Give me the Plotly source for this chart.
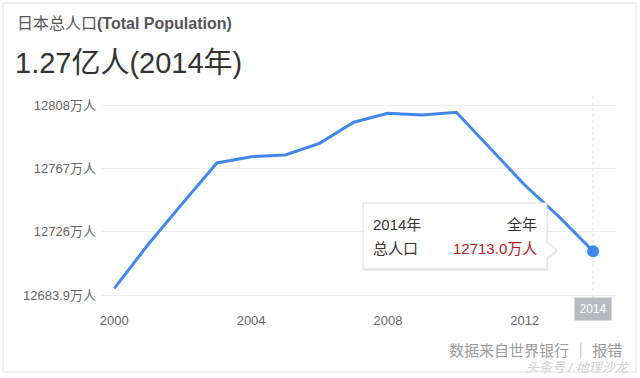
import plotly.graph_objects as go

years = list(range(2000, 2015))
population = [12688.7, 12717.7, 12744.4, 12770.6, 12774.7, 12775.8, 12783.4, 12797.2,
              12803.0, 12801.9, 12803.7, 12780.0, 12756.2, 12735.6, 12713.0]
x_ticks = [2000, 2004, 2008, 2012]
y_ticks = [12683.9, 12726, 12767, 12808]
y_ticktext = ["12683.9万人", "12726万人", "12767万人", "12808万人"]
highlight_year = 2014
highlight_value = population[-1]

W, H = 640, 378
L, R, T, B = 102, 24, 93, 81
PW, PH = W - L - R, H - T - B

def px(x):
    return (x - L) / PW

def py(y):
    return (H - B - y) / PH

FONT = "Liberation Sans, Arial, Noto Sans CJK SC, sans-serif"

fig = go.Figure()
fig.add_trace(go.Scatter(x=years, y=population, mode="lines",
                         line=dict(color="#4287ec", width=3), hoverinfo="skip"))
fig.add_trace(go.Scatter(x=[highlight_year], y=[highlight_value], mode="markers",
                         marker=dict(color="#4287ec", size=12), hoverinfo="skip"))

shapes = []
# card border
shapes.append(dict(type="rect", xref="paper", yref="paper", x0=px(3), x1=px(636), y0=py(372), y1=py(3),
                   line=dict(color="#e2e2e2", width=1), fillcolor="rgba(0,0,0,0)", layer="below"))
# vertical line at highlight year
shapes.append(dict(type="line", xref="x", yref="paper", x0=highlight_year, x1=highlight_year, y0=0, y1=1,
                   line=dict(color="#dcdcdc", width=1, dash="dot"), layer="below"))

# tooltip
tl, tr, tt, tb = 363, 547, 203, 269
tip_x, tip_y = 557, 250

def tooltip_path(dx=0, dy=0):
    pts = [(tl, tt), (tr, tt), (tr, tip_y - 8), (tip_x, tip_y), (tr, tip_y + 8), (tr, tb), (tl, tb)]
    s = ""
    for i, (a, b) in enumerate(pts):
        s += ("M" if i == 0 else "L") + f"{px(a + dx):.5f},{py(b + dy):.5f} "
    return s + "Z"

shapes.append(dict(type="path", xref="paper", yref="paper", path=tooltip_path(1, 2),
                   fillcolor="rgba(0,0,0,0.06)", line=dict(width=0)))
shapes.append(dict(type="path", xref="paper", yref="paper", path=tooltip_path(),
                   fillcolor="white", line=dict(color="#dedede", width=1)))

ann = []
def text(x, y, s, size, color, xanchor="left", **kw):
    ann.append(dict(xref="paper", yref="paper", x=px(x), y=py(y), text=s, showarrow=False,
                    xanchor=xanchor, yanchor="middle", font=dict(family=FONT, size=size, color=color), **kw))

text(15, 23, "日本总人口<b>(Total Population)</b>", 16, "#555555")
text(13, 63, "1.27亿人(2014年)", 29, "#333333")
text(371, 224, "2014年", 15, "#333333")
text(539, 224, "全年", 15, "#333333", xanchor="right")
text(371, 248, "总人口", 15, "#333333")
text(539, 248, "12713.0万人", 15, "#b3202a", xanchor="right")
text(624, 350, "数据来自世界银行 ｜ 报错", 15, "#9a9a9a", xanchor="right")
text(632, 367, "<i>头条号 / 地理沙龙</i>", 13, "#d0d0d0", xanchor="right")

ann.append(dict(xref="x", yref="paper", x=highlight_year, y=py(309), text=str(highlight_year),
                showarrow=False, xanchor="center", yanchor="middle", bgcolor="#b7bac0",
                width=34, height=20, font=dict(family=FONT, size=12, color="white")))

fig.update_layout(
    width=W, height=H, margin=dict(l=L, r=R, t=T, b=B),
    paper_bgcolor="white", plot_bgcolor="white", showlegend=False,
    shapes=shapes, annotations=ann,
    xaxis=dict(range=[1999.64, 2014.67], tickvals=x_ticks, showgrid=False, zeroline=False,
               showline=False, ticks="", ticklabelstandoff=14,
               tickfont=dict(family=FONT, size=13, color="#666666"), fixedrange=True),
    yaxis=dict(range=[12683.1, 12816.3], tickvals=y_ticks, ticktext=y_ticktext,
               showgrid=True, gridcolor="#eeeeee", gridwidth=1, zeroline=False, showline=False,
               ticks="", ticklabelstandoff=5,
               tickfont=dict(family=FONT, size=13, color="#666666"), fixedrange=True),
)

fig.write_html("out.html", config={"displayModeBar": False},
               post_script="document.body.style.margin='0';document.body.style.overflow='hidden';")
